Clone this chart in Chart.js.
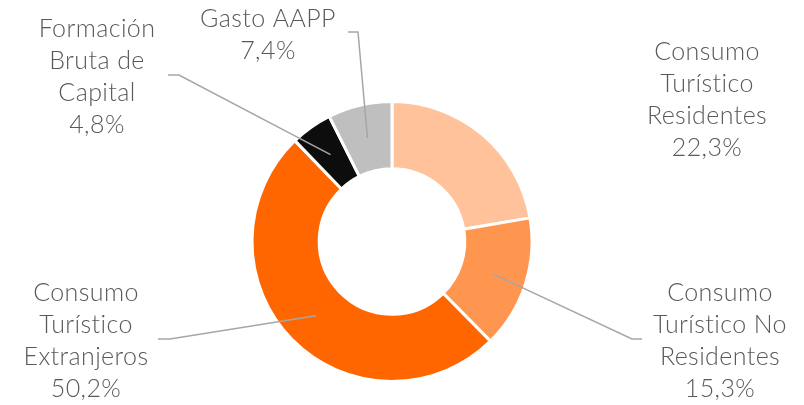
<!DOCTYPE html>
<html>
<head>
<meta charset="utf-8">
<script src="https://cdn.jsdelivr.net/npm/chart.js@4"></script>
<style>
  html, body { margin: 0; padding: 0; background: #fff; }
  canvas { display: block; }
</style>
</head>
<body>
<canvas id="donutChart" width="804" height="405"></canvas>
<script>
// datos
const categories = [
  ["Consumo", "Turístico", "Residentes"],
  ["Consumo", "Turístico No", "Residentes"],
  ["Consumo", "Turístico", "Extranjeros"],
  ["Formación", "Bruta de", "Capital"],
  ["Gasto AAPP"]
];
const values = [22.3, 15.3, 50.2, 4.8, 7.4];
const colors = ["#FFC29B", "#FF9650", "#FF6600", "#0D0D0D", "#BFBFBF"];

// where each label sits (first baseline) and the elbow of its leader line
const labelLayout = [
  { x: 707, y: 60, leader: null },
  { x: 720, y: 301, leader: [[632, 339], [642, 339]] },
  { x: 86, y: 301, leader: [[170, 339], [158, 339]] },
  { x: 97, y: 37, leader: [[179, 75], [168, 75]] },
  { x: 268, y: 27, leader: [[358, 32], [348, 32]] }
];

const fmt = v => v.toFixed(1).replace(".", ",") + "%";

const outsideLabels = {
  id: "outsideLabels",
  afterDraw(chart) {
    const ctx = chart.ctx;
    const arcs = chart.getDatasetMeta(0).data;
    ctx.save();

    // leader lines
    ctx.strokeStyle = "#A6A6A6";
    ctx.lineWidth = 1.5;
    arcs.forEach((arc, i) => {
      const lay = labelLayout[i];
      if (!lay.leader) return;
      const p = arc.tooltipPosition();
      ctx.beginPath();
      ctx.moveTo(p.x, p.y);
      lay.leader.forEach(pt => ctx.lineTo(pt[0], pt[1]));
      ctx.stroke();
    });

    // text
    ctx.fillStyle = "#595959";
    ctx.font = "300 25px Lato, 'Open Sans', sans-serif";
    ctx.letterSpacing = "0.4px";
    ctx.textAlign = "center";
    ctx.textBaseline = "alphabetic";
    categories.forEach((lines, i) => {
      const lay = labelLayout[i];
      const all = lines.concat([fmt(values[i])]);
      all.forEach((t, k) => ctx.fillText(t, lay.x, lay.y + k * 32));
    });
    ctx.restore();
  }
};

new Chart(document.getElementById("donutChart"), {
  type: "doughnut",
  data: {
    labels: categories.map(c => c.join(" ")),
    datasets: [{
      data: values,
      backgroundColor: colors,
      borderColor: "#FFFFFF",
      borderWidth: 3
    }]
  },
  options: {
    responsive: false,
    animation: false,
    cutout: "52%",
    layout: { padding: { top: 100, bottom: 22, left: 250.5, right: 270.5 } },
    plugins: {
      legend: { display: false },
      tooltip: { enabled: false }
    }
  },
  plugins: [outsideLabels]
});
</script>
</body>
</html>
